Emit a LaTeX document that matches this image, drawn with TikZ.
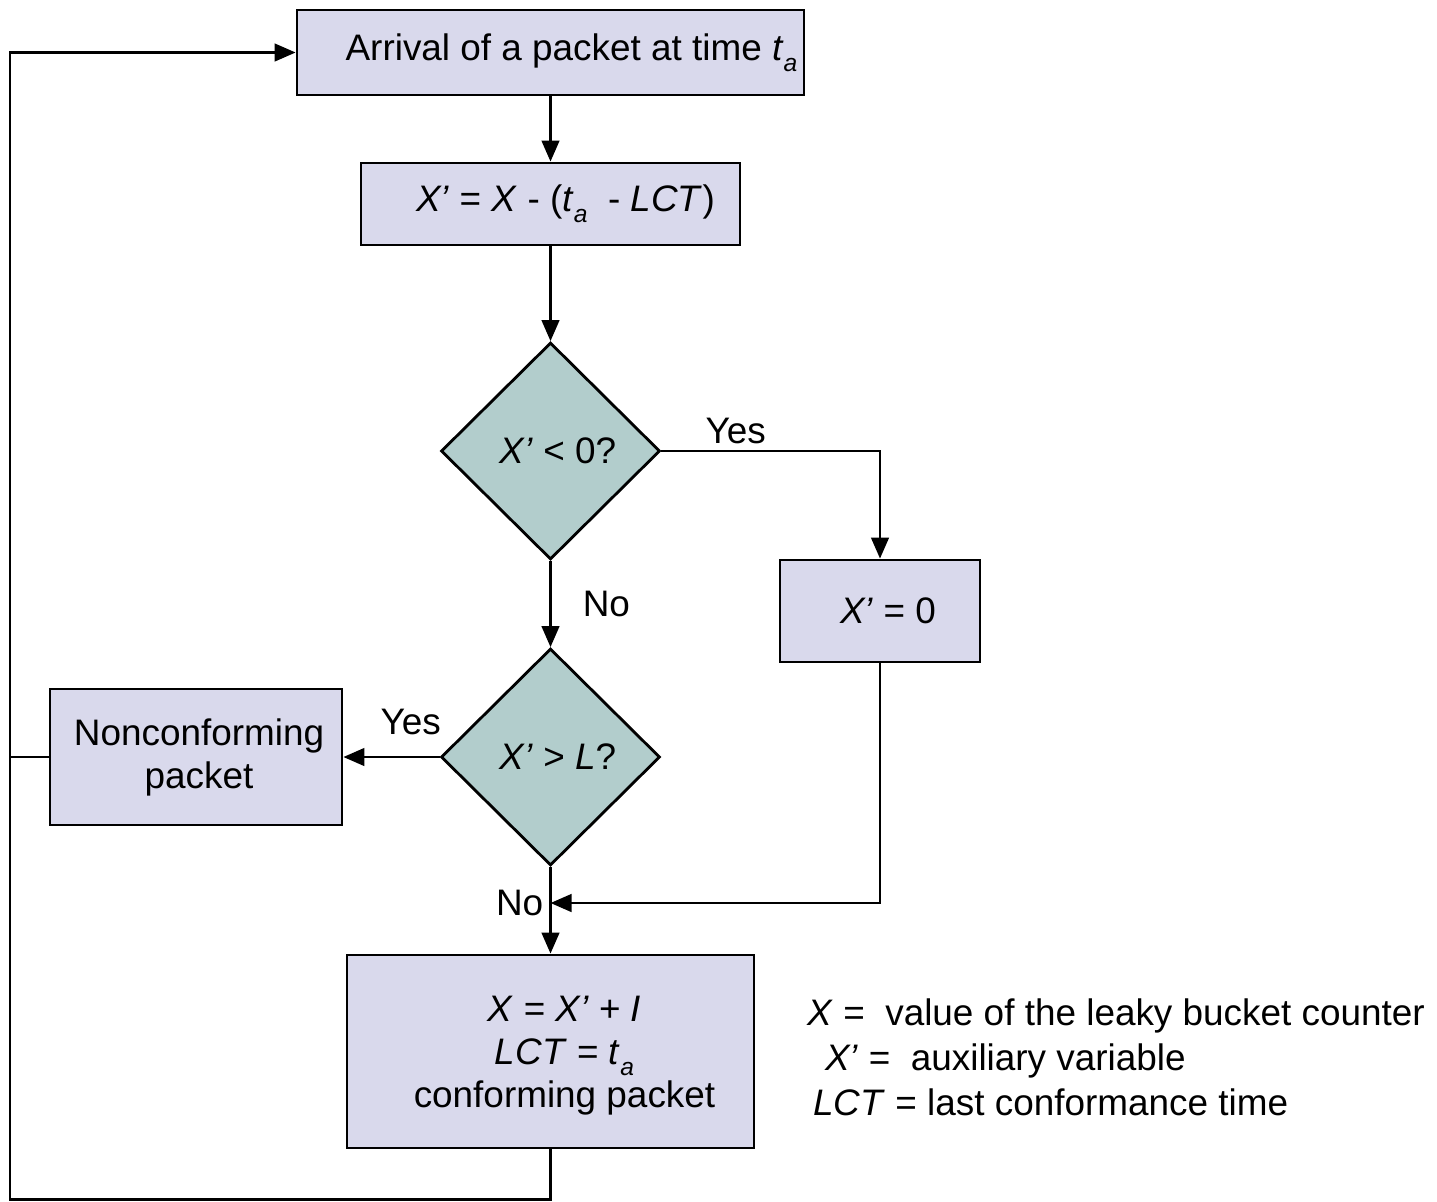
\documentclass[tikz,border=0pt]{standalone}
\usepackage{fontspec}
\setmainfont{Liberation Sans}
\usetikzlibrary{arrows.meta,shapes.geometric}

\definecolor{boxfill}{RGB}{217,217,236}
\definecolor{testfill}{RGB}{178,205,204}
\newcommand{\ta}{\textit{t}\raisebox{-6.5pt}{\fontsize{14}{14}\selectfont\textit{a}}}
\newcommand{\xp}{\textit{X’}}

\begin{document}
\begin{tikzpicture}[x=0.02cm, y=-0.02cm, line width=1.6pt,
  every node/.style={font=\fontsize{21}{24.5}\selectfont},
  proc/.style={draw, fill=boxfill, inner sep=0pt},
  test/.style={diamond, draw, fill=testfill, inner sep=0pt,
    minimum width=4.38cm, minimum height=4.34cm},
  flow/.style={-{Triangle[length=12pt,width=10pt]}}]

\useasboundingbox (0,0) rectangle (1437,1201);

 \node[proc, minimum width=10.14cm, minimum height=1.7cm,
   label={[xshift=0.42cm]center:Arrival of a packet at time \ta}] (arrival) at (550.5,52.5) {};
 \node[proc, minimum width=7.58cm, minimum height=1.64cm,
   label={[xshift=0.3cm]center:\xp{} = \textit{X} - (\ta~ - \textit{LCT})}] (update) at (550.5,204) {};
 \node[test, label={[xshift=0.15cm]center:\xp{} < 0?}] (neg) at (550.5,451) {};
 \node[proc, minimum width=4cm, minimum height=2.04cm,
   label={[xshift=0.16cm]center:\xp{} = 0}] (zero) at (880,611) {};
 \node[test, label={[xshift=0.15cm]center:\xp{} > \textit{L}?}] (limit) at (550.5,757) {};
 \node[proc, minimum width=5.84cm, minimum height=2.72cm,
   label={[xshift=0.06cm,align=center]center:Nonconforming\\packet}] (nonconf) at (196,757) {};
 \node[proc, minimum width=8.14cm, minimum height=3.86cm,
   label={[xshift=0.28cm,yshift=-0.08cm,align=center]center:\textit{X} = \xp{} + \textit{I}\\\textit{LCT} = \ta\\conforming packet}] (conf) at (550.5,1051.5) {};

 % legend
 \node[anchor=base west] (leg1) at (800,1025) {\textit{X} =~ value of the leaky bucket counter};
 \node[anchor=base west] (leg2) at (818,1070) {\xp{} =~ auxiliary variable};
 \node[anchor=base west] (leg3) at (806,1115) {\textit{LCT} = last conformance time};

 \coordinate (join) at (550.5,903);

 \draw[flow] (arrival) -- (update);
 \draw[flow] (update) -- (neg);
 \draw[flow] (neg.east) -| node[pos=0.17, above] {Yes} (zero.north);
 \draw[flow] (neg) -- node[right=0.5cm] {No} (limit);
 \draw[flow] (limit.west) -- node[pos=0.3, above, yshift=0.3cm] {Yes} (nonconf.east);
 \draw[flow] (limit) -- (conf);
 \draw[flow] (zero.south) |- (join);
 \node[left] (nolbl) at (join) {No};

 % feedback loop
 \draw[flow] (conf.south) -- ++(0,50) -| (10,52.5) -- (arrival.west);
 \draw (nonconf.west) -- (10,757);

\end{tikzpicture}
\end{document}
